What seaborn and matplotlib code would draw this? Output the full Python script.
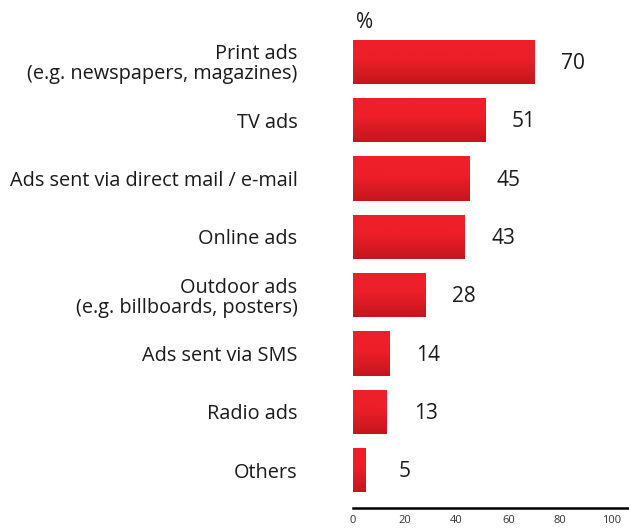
import numpy as np
import pandas as pd
import matplotlib
matplotlib.use("Agg")
import matplotlib.pyplot as plt
from matplotlib.colors import LinearSegmentedColormap
import seaborn as sns

categories = [
    "Print ads\n(e.g. newspapers, magazines)",
    "TV ads",
    "Ads sent via direct mail / e-mail",
    "Online ads",
    "Outdoor ads\n(e.g. billboards, posters)",
    "Ads sent via SMS",
    "Radio ads",
    "Others",
]
values = [70, 51, 45, 43, 28, 14, 13, 5]
tick_values = [0, 20, 40, 60, 80, 100]

df = pd.DataFrame({"category": categories, "value": values})

sns.set_theme(style="white")
plt.rcParams["font.family"] = ["Open Sans", "DejaVu Sans"]

W, H = 629, 529
fig = plt.figure(figsize=(W / 100, H / 100), dpi=100)
ax = fig.add_axes([353 / W, 21 / H, 276 / W, 484 / H])

sns.barplot(data=df, x="value", y="category", orient="h",
            color="#ee1f28", width=0.76, ax=ax, zorder=2)

# vertical gradient inside each bar: bright red on top, darker at the base
cmap = LinearSegmentedColormap.from_list(
    "bar_red", [(0, "#ef1f29"), (0.45, "#ec1f28"), (1.0, "#c3161e")])
grad = np.linspace(1, 0, 256).reshape(-1, 1)
for p in ax.patches:
    x0, y0 = p.get_x(), p.get_y()
    w, h = p.get_width(), p.get_height()
    im = ax.imshow(grad, cmap=cmap, vmin=0, vmax=1, aspect="auto",
                   extent=(x0, x0 + w, y0 + h, y0), origin="lower", zorder=3)
    im.set_clip_path(p)
    p.set_edgecolor("none")

ax.set_xlim(0, 276 / 2.59)
ax.set_ylim(len(categories) - 0.35, -0.65)

# value labels to the right of each bar
for i, v in enumerate(values):
    ax.text(v + 15, i + 0.03, f"{v}", ha="center", va="center",
            fontsize=15, color="#1a1a1a", zorder=4)

ax.set_xticks(tick_values)
ax.set_xticklabels([str(t) for t in tick_values], fontsize=8, color="#333333")
ax.tick_params(axis="x", length=0, pad=5)
ax.tick_params(axis="y", length=0, pad=40)
for lbl in ax.get_yticklabels():
    lbl.set_fontsize(14.3)
    lbl.set_color("#1a1a1a")
    lbl.set_multialignment("right")
    lbl.set_linespacing(1.0)

ax.set_xlabel("")
ax.set_ylabel("")
for side in ("top", "right", "left"):
    ax.spines[side].set_visible(False)
ax.spines["bottom"].set_color("black")
ax.spines["bottom"].set_linewidth(1.8)

fig.text(356 / W, 1 - 22 / H, "%", ha="left", va="center",
         fontsize=15, color="#1a1a1a")

fig.savefig("out.png", dpi=100)
